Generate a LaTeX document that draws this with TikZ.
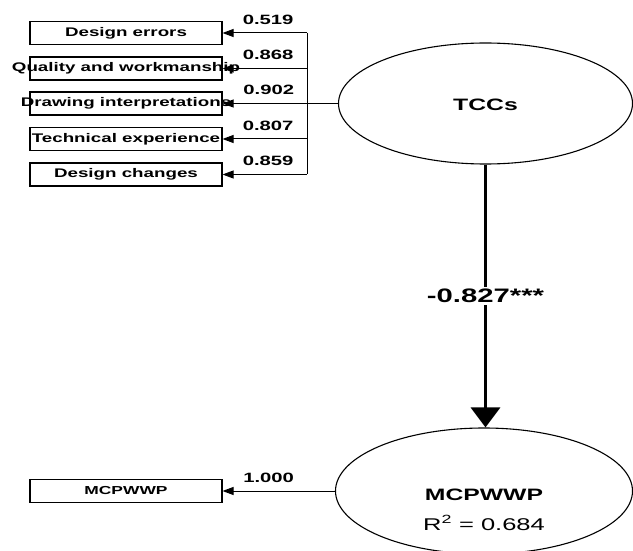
\documentclass[tikz,border=0pt]{standalone}
\usepackage{fontspec}
\setmainfont{Liberation Sans}[FakeStretch=1.5]
\usetikzlibrary{shapes.geometric,arrows.meta}
\newcommand{\ctxt}[1]{\makebox[0pt][c]{#1}}
\begin{document}
\begin{tikzpicture}[x=1pt,y=-1pt,
  indbox/.style={draw, line width=1.1pt, minimum width=192pt, minimum height=23pt,
    inner sep=0pt, text height=9pt, text depth=2.4pt, font=\fontsize{12.5}{12.5}\selectfont\bfseries},
  latent/.style={draw, ellipse, line width=1.1pt, inner sep=0pt},
  load/.style={line width=1pt, -{Triangle[width=8pt,length=11pt]}},
  lbl/.style={font=\fontsize{13.5}{13.5}\selectfont\bfseries, inner sep=0pt, anchor=base, yshift=8.5pt}]
\useasboundingbox (0,0) rectangle (633,551);

% indicator boxes
\node[indbox] (d1) at (126,33)    {\ctxt{Design errors}};
\node[indbox] (d2) at (126,68.5)  {\ctxt{Quality and workmanship}};
\node[indbox] (d3) at (126,103.5) {\ctxt{Drawing interpretations}};
\node[indbox] (d4) at (126,139)   {\ctxt{Technical experience}};
\node[indbox] (d5) at (126,174.5) {\ctxt{Design changes}};
\node[indbox, font=\fontsize{11.6}{11.6}\selectfont\bfseries] (m0) at (126,491) {\ctxt{MCPWWP}};

% latent variables
\node[latent, minimum width=294pt, minimum height=121pt] (tcc) at (485.5,103.5) {};
\node[font=\fontsize{16.5}{16.5}\selectfont\bfseries] (tcct) at (485.5,105) {TCCs};
\node[latent, minimum width=297pt, minimum height=126pt] (mcp) at (484,491) {};
\node[font=\fontsize{16.5}{16.5}\selectfont\bfseries] (mcpt) at (484,495) {MCPWWP};
\node[font=\fontsize{17}{17}\selectfont] (mcpr) at (484,523) {R\textsuperscript{2} = 0.684};

% outer loadings of TCCs
\coordinate (jt) at (307,33);
\coordinate (jb) at (307,174.5);
\draw[line width=1pt] (jt) -- (jb);
\draw[load] (tcc.west) -- (d3.east) node[lbl, pos=0.60] (l3) {0.902};
\draw[load] (jt) -- (d1.east) node[lbl, pos=0.46] (l1) {0.519};
\draw[load] (d2.east -| jt) -- (d2.east) node[lbl, pos=0.46] (l2) {0.868};
\draw[load] (d4.east -| jt) -- (d4.east) node[lbl, pos=0.46] (l4) {0.807};
\draw[load] (jb) -- (d5.east) node[lbl, pos=0.46] (l5) {0.859};

% outer loading of MCPWWP
\draw[load] (mcp.west) -- (m0.east) node[lbl, pos=0.59] (l6) {1.000};

% structural path
\draw[line width=3.5pt, -{Triangle[width=29pt,length=20pt]}] (tcc.south) -- (tcc.south |- mcp.north)
  node[pos=0.5, fill=white, inner sep=2pt, font=\fontsize{19.5}{19.5}\selectfont\bfseries] (beta) {-0.827***};
\end{tikzpicture}
\end{document}
